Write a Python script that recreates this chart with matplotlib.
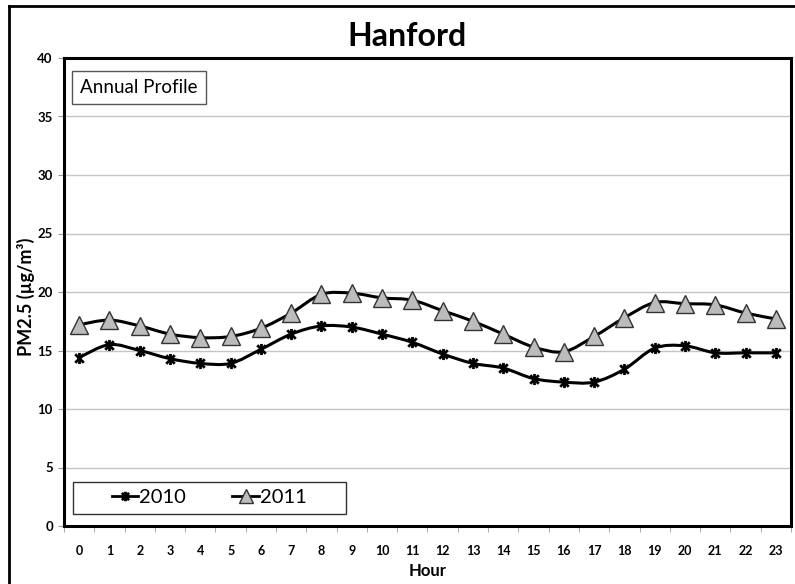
import numpy as np
import matplotlib.pyplot as plt
from matplotlib.path import Path
from matplotlib.patches import PathPatch, Rectangle
from matplotlib.lines import Line2D

plt.rcParams['font.family'] = ['Lato', 'DejaVu Sans']

# Hourly PM2.5 annual profile
hours = list(range(24))
hour_labels = [str(h) for h in hours]
pm_2010 = [14.4, 15.5, 15.0, 14.3, 13.9, 13.9, 15.1, 16.4, 17.1, 17.0, 16.4, 15.7,
           14.7, 13.9, 13.5, 12.6, 12.3, 12.3, 13.4, 15.2, 15.4, 14.8, 14.8, 14.8]
pm_2011 = [17.2, 17.6, 17.1, 16.4, 16.1, 16.2, 16.9, 18.2, 19.8, 19.9, 19.5, 19.3,
           18.4, 17.5, 16.4, 15.3, 14.9, 16.2, 17.8, 19.1, 19.0, 18.9, 18.2, 17.7]
yticks = [0, 5, 10, 15, 20, 25, 30, 35, 40]


def smooth_path(x, y):
    # Excel-style smoothed line: cubic Bezier segments through the data points
    pts = np.column_stack([x, y]).astype(float)
    verts = [pts[0]]
    codes = [Path.MOVETO]
    n = len(pts)
    for i in range(n - 1):
        p0 = pts[i - 1] if i > 0 else pts[i]
        p3 = pts[i + 2] if i + 2 < n else pts[i + 1]
        c1 = pts[i] + (pts[i + 1] - p0) / 6
        c2 = pts[i + 1] - (p3 - pts[i]) / 6
        verts += [c1, c2, pts[i + 1]]
        codes += [Path.CURVE4] * 3
    return Path(verts, codes)


# Excel "star" marker: an X with a vertical bar through it
star_path = Path([(-1, -1), (1, 1), (-1, 1), (1, -1), (0, -1.3), (0, 1.3)],
                 [Path.MOVETO, Path.LINETO, Path.MOVETO, Path.LINETO, Path.MOVETO, Path.LINETO])

fig = plt.figure(figsize=(7.95, 5.84), dpi=100)
ax = fig.add_axes([64 / 795, 1 - 526 / 584, 727 / 795, 468 / 584])

star = dict(marker=star_path, markersize=8, markeredgewidth=2,
            markeredgecolor='black', markerfacecolor='none')
tri = dict(marker='^', markersize=12.5, markerfacecolor='#bcbcbc',
           markeredgecolor='#333333', markeredgewidth=1.0)

ax.add_patch(PathPatch(smooth_path(hours, pm_2010), fill=False, lw=2.2,
                       edgecolor='black', zorder=3))
ax.add_patch(PathPatch(smooth_path(hours, pm_2011), fill=False, lw=2.2,
                       edgecolor='black', zorder=3))
ax.plot(hours, pm_2010, linestyle='none', zorder=4, **star)
ax.plot(hours, pm_2011, linestyle='none', zorder=4, **tri)

ax.set_xlim(-0.5, 23.5)
ax.set_ylim(0, 40)
ax.set_yticks(yticks)
ax.yaxis.grid(True, color='#c4c4c4', lw=1)
ax.set_axisbelow(True)

ax.set_xticks(hours)
ax.set_xticklabels(hour_labels, fontsize=9, fontweight='bold')
ax.set_xticks(np.arange(-0.5, 24, 1), minor=True)
ax.tick_params(axis='x', which='major', length=0, pad=14)
ax.tick_params(axis='x', which='minor', length=4, color='#999999', direction='out')
ax.tick_params(axis='y', length=4, color='#999999', labelsize=9.5, pad=4)
for lab in ax.get_yticklabels():
    lab.set_fontweight('bold')

for s in ax.spines.values():
    s.set_linewidth(2.2)
    s.set_color('black')

ax.set_xlabel('Hour', fontsize=12, fontweight='bold', labelpad=4)
ax.set_ylabel('PM2.5 (µg/m³)', fontsize=13, fontweight='bold', va='center')
ax.yaxis.set_label_coords(-0.053, 0.49)

fig.text(0.512, 0.938, 'Hanford', ha='center', va='center', fontsize=23,
         fontweight='bold')

ax.text(0.022, 0.937, 'Annual Profile', transform=ax.transAxes, fontsize=13.5,
        va='center', ha='left',
        bbox=dict(boxstyle='square,pad=0.45', fc='white', ec='#555555', lw=1))

# legend box drawn separately, entries centred inside it
ax.add_patch(Rectangle((0.012, 0.026), 0.3755, 0.068, transform=ax.transAxes,
                       fc='white', ec='#333333', lw=1, zorder=5))
handles = [Line2D([0], [0], color='black', lw=2, **star),
           Line2D([0], [0], color='black', lw=2, **tri)]
leg = ax.legend(handles, ['2010', '2011'], ncol=2, loc='center',
                bbox_to_anchor=(0.012 + 0.3755 / 2, 0.026 + 0.034),
                frameon=False, fontsize=14.5, handlelength=1.3, markerscale=0.85,
                handletextpad=0.05, columnspacing=2.3, borderaxespad=0)
leg.set_zorder(6)

# outer chart frame
fig.add_artist(Line2D([9 / 795, 9 / 795], [0, 1 - 6 / 584], color='black', lw=2))
fig.add_artist(Line2D([9 / 795, 1], [1 - 6 / 584, 1 - 6 / 584], color='black', lw=2))

fig.savefig('out.png', dpi=100)
